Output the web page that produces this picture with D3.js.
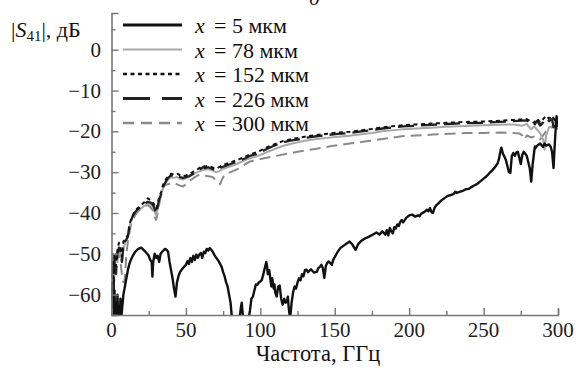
<!DOCTYPE html>
<html>
<head>
<meta charset="utf-8">
<script src="https://cdn.jsdelivr.net/npm/d3@7"></script>
<style>
  body { margin: 0; background: #fff; }
  text { font-family: "Liberation Serif", "Times New Roman", serif; }
</style>
</head>
<body>
<svg id="chart" width="576" height="374"></svg>
<script>
// [frequency GHz, |S41| dB]
const s5 = [[0,-58],[0.5,-65],[1,-60],[1.5,-66],[2,-59],[2.5,-66],[3,-62],[3.5,-67],[4,-60],[4.5,-66],[5,-63],[5.5,-67],[6,-61],[6.5,-66],[7,-64],[7.5,-62],[8,-60],[9,-58],[10,-56],[11,-54],[12,-52.5],[13,-51.5],[14,-50.7],[16,-49.5],[18,-48.8],[20,-48.5],[22,-49.2],[24,-50],[25,-50.5],[26,-51.5],[27,-52],[27.5,-55.6],[28,-52],[29,-50],[30,-51],[31,-50.5],[32,-52],[33,-50],[34,-49.5],[36,-48.8],[37,-49],[38,-49.5],[39,-52],[40,-54],[41,-56],[42,-58.5],[43,-60.5],[44,-57],[45,-55.5],[46,-54.5],[48,-53.5],[50,-52.7],[51,-51.8],[52,-52.5],[53,-51],[54,-52],[55,-50.5],[56,-51.5],[57,-50.2],[58,-51],[59,-50.2],[60,-49.8],[61,-51],[62,-49.5],[63,-49.8],[64,-48.8],[65,-49.2],[66,-48.6],[67,-49],[68,-49.5],[69,-50.2],[70,-50.8],[72,-51.8],[74,-53.2],[75,-54.5],[76,-55.5],[77,-57],[78,-58],[79,-60],[80,-62],[81,-66],[86,-66],[87,-63],[87.5,-62],[88,-64],[88.5,-66],[92,-66],[93,-64],[94,-61],[95,-60.5],[96,-59],[97,-57.5],[98,-57.6],[99,-57],[100,-56.8],[101,-56.4],[102,-55],[103,-53.5],[104,-52],[104.5,-53],[105,-55],[106,-54],[107,-57],[107.5,-58],[108,-56],[109,-58.5],[109.5,-57.5],[110,-59.5],[111,-60.5],[112,-58],[113,-57.8],[114,-61],[115,-62.5],[116,-61],[117,-62],[118,-61.3],[118.5,-60.5],[119,-63],[120,-66],[121,-62],[122,-59.5],[123,-58],[124,-58.5],[125,-57],[126,-56],[127,-56.5],[128,-55],[129,-55.5],[130,-54],[131,-53.9],[132,-54.5],[134,-53.8],[136,-54.6],[138,-54.4],[139,-53.5],[140,-53.2],[141,-52.7],[142,-53.5],[143,-55.9],[144,-53],[145,-52.2],[146,-51.9],[147,-52.3],[148,-52.7],[149,-51.5],[150,-50.8],[152,-49.5],[154,-48.5],[156,-48],[158,-47.5],[160,-47],[162,-47.8],[163,-48.5],[164,-49],[165,-48.2],[166,-47.5],[168,-46.8],[170,-46.3],[172,-46],[174,-45.6],[176,-45.2],[178,-44.8],[180,-45.3],[182,-44.5],[184,-45.3],[185,-44.2],[186,-45.5],[187,-43.7],[188,-44.5],[189,-45],[190,-43.5],[191,-43.8],[192,-42.8],[193,-43.2],[194,-42.2],[195,-41.7],[196,-42.3],[198,-41.2],[200,-40.6],[202,-40.4],[204,-40.9],[206,-40.6],[207,-40.8],[208,-40.2],[210,-39.8],[212,-39.2],[213,-39.6],[214,-38.8],[215,-39.8],[216,-40],[217,-38.8],[218,-38.2],[220,-37.5],[222,-36.8],[224,-36.3],[226,-35.8],[228,-35.6],[230,-35.3],[231,-34.8],[232,-35.1],[234,-34.8],[236,-34.6],[238,-34.2],[240,-34.1],[242,-33.6],[244,-33.2],[246,-32.8],[248,-32.2],[250,-31.6],[252,-31],[254,-30.2],[256,-29.5],[258,-28.6],[259.5,-27.8],[260.5,-26.5],[261.5,-24.5],[262,-24],[263,-25.5],[264,-26.2],[265,-27],[266,-28.5],[267,-30],[268,-30.2],[268.5,-28],[269,-26],[270,-25.3],[271,-26],[272,-25.2],[273,-25],[274,-26.5],[275,-28],[276,-25.8],[277,-25],[278,-25.5],[279,-26],[280,-27.5],[281,-29],[282,-32.3],[283,-28],[284,-25],[284.5,-23.7],[285,-24],[286,-23.5],[288,-23],[290,-23.8],[291,-23],[292,-23.5],[294,-23.2],[295,-23.7],[296,-25],[297,-29],[298,-22],[299,-16.3],[300,-19]];

const s78 = [[0,-53],[1,-50],[2,-55],[3,-51],[4,-52],[5,-49],[6,-50],[7,-52],[8,-49],[9,-47.5],[10,-46.5],[11,-45.5],[12,-43.5],[13,-42],[14,-41],[16,-40],[18,-39.2],[20,-38.8],[22,-38.3],[24,-37.8],[26,-37.8],[28,-38.5],[29,-39.8],[30,-40.5],[31,-39],[32,-37],[33.5,-35.5],[35,-33.5],[37,-32.2],[40,-31.2],[42,-31.4],[44,-31.2],[46,-31.6],[48,-31.8],[50,-31.5],[53,-31],[56,-30.3],[59,-29.8],[62,-29.4],[65,-29.3],[68,-29.6],[70,-30],[72,-29.8],[75,-29.2],[78,-28.8],[82,-28.3],[86,-27.7],[90,-27],[95,-26.4],[100,-25.8],[105,-25],[110,-24.3],[115,-23.6],[120,-23.1],[125,-22.7],[130,-22.3],[138,-21.9],[145,-21.6],[152,-21.3],[160,-21.1],[168,-20.7],[175,-20.4],[182,-20],[190,-19.7],[196,-19.5],[205,-19.3],[215,-19.1],[225,-18.9],[238,-18.7],[250,-18.5],[261,-18.4],[270,-18.3],[276,-18.6],[279,-18.2],[282,-19.5],[284,-18.8],[286,-19.6],[288,-20.5],[290,-22],[291,-24.5],[292,-21],[294,-19],[296,-18.8],[298,-17.5],[300,-18.5]];

const s152 = [[0,-55],[0.5,-60],[1,-52],[1.5,-57],[2,-50],[3,-53],[4,-49],[5,-47.3],[6,-48.5],[7,-50.7],[7.5,-49],[8,-47],[9,-46.5],[10,-46],[11,-45.5],[12,-43],[13,-41.7],[14,-40.8],[15.5,-39.7],[17,-39],[18.8,-38.5],[20,-38],[22,-37.4],[24.3,-36.4],[26,-36.8],[27.7,-37.3],[29,-38.2],[30,-39],[31,-37.6],[32,-36.2],[33.4,-34.8],[34.5,-33.2],[35.6,-32.4],[37,-31.5],[38,-31],[40,-30.4],[42,-30.6],[44.5,-30.4],[46,-30.8],[48,-31],[50,-30.8],[52,-30.5],[54,-30.1],[57,-29.5],[59,-29],[61.4,-28.4],[63,-28.6],[65,-28.4],[67,-28.7],[69,-29],[70.4,-29.1],[72,-28.8],[74,-28.4],[77,-28],[80,-27.6],[83,-27.2],[86,-26.8],[90,-26.2],[93,-25.6],[97,-25.2],[100,-24.7],[105,-23.8],[110,-23.1],[115,-22.4],[120,-22],[125,-21.6],[130,-21.3],[137.7,-20.9],[145,-20.6],[152,-20.3],[160,-20.1],[168,-19.7],[175,-19.4],[182,-19],[190,-18.7],[196,-18.5],[205,-18.3],[215,-18.1],[225,-17.9],[238,-17.7],[250,-17.6],[261,-17.4],[270,-17.2],[279,-17],[282,-17.6],[284,-17.9],[286,-16.9],[288,-17.8],[290,-17],[292,-16.2],[294,-16.9],[296,-16.2],[298,-17.3],[300,-17.8]];

const s226 = [[0,-57],[0.5,-62],[1,-54],[1.5,-59],[2,-51],[3,-55],[4,-50],[5,-48.5],[6,-49.5],[7,-52],[7.5,-50],[8,-48],[9,-47],[10,-46.5],[11,-45.8],[12,-43.5],[13,-42],[14,-41],[15.5,-40],[17,-39.3],[18.8,-38.8],[20,-38.5],[22,-37.9],[24,-37.3],[26,-37.4],[27.7,-37.9],[29,-39],[30,-40.2],[31,-38.5],[32,-36.8],[33.4,-35.3],[34.5,-33.8],[35.6,-32.9],[37,-32],[38,-31.4],[40,-30.8],[42,-31],[44.5,-30.8],[46,-31.2],[48,-31.4],[50,-31.2],[52,-31],[54,-30.6],[57,-30],[59,-29.4],[61.4,-28.8],[63,-29],[65,-28.8],[67,-29.1],[69,-29.4],[70.4,-29.6],[72,-29.2],[74,-28.8],[77,-28.4],[80,-28],[83,-27.6],[86,-27.2],[90,-26.6],[93,-26],[97,-25.6],[100,-25.1],[105,-24.2],[110,-23.4],[115,-22.7],[120,-22.3],[125,-22],[130,-21.6],[137.7,-21.2],[145,-20.9],[152,-20.6],[160,-20.4],[168,-20],[175,-19.7],[182,-19.3],[190,-19],[196,-18.8],[205,-18.6],[215,-18.4],[225,-18.2],[238,-18],[250,-17.9],[261,-17.7],[270,-17.5],[279,-17.3],[282,-18.2],[284,-18.5],[286,-17.4],[288,-18.6],[290,-17.8],[292,-16.8],[294,-17.5],[296,-17],[297,-19],[298,-17.8],[300,-18.2]];

const s300 = [[0,-52],[1,-56],[2,-52],[3,-50],[4,-51],[5,-49],[6,-52],[7,-55],[8,-57],[8.7,-57],[9.5,-53],[10,-50],[11,-47],[12,-45],[13,-43],[14,-42],[16,-40.5],[18,-39.5],[20,-39],[22,-38.5],[24,-38],[26,-38.5],[28,-39.5],[29,-41],[30,-41.7],[31,-40],[32,-38],[33,-36],[34,-34.5],[35,-33.5],[37,-33],[40,-32.8],[42,-32.6],[44,-33],[46,-33.3],[48,-33.5],[50,-33],[53,-32],[56,-31.2],[59,-30.6],[62,-30.8],[65,-31],[68,-31.2],[70,-32],[72,-32.3],[73,-33],[74,-32],[76,-30.5],[80,-30],[85,-29.2],[90,-28],[93,-27.4],[100,-26.8],[108,-26.2],[115,-25.7],[125,-25],[137,-24.3],[148,-23.6],[160,-23],[170,-22.5],[182,-21.9],[195,-21.2],[205,-21],[216,-20.8],[228,-20.6],[238,-20.4],[250,-20.4],[261,-20.3],[270,-20.4],[274,-20.5],[276,-21],[277.7,-22],[279,-21],[282,-21.5],[284.5,-21.2],[286,-21.8],[288,-22],[290,-21],[292,-20],[294,-19.5],[296,-19],[298,-18.8],[300,-19.5]];

const seriesNames = ["5", "78", "152", "226", "300"];
const xTicks = [0, 50, 100, 150, 200, 250, 300];
const yTicks = [0, -10, -20, -30, -40, -50, -60];

const svg = d3.select("#chart");
const serif = "Liberation Serif";

const x = d3.scaleLinear().domain([0, 300]).range([111.5, 558]);
const y = d3.scaleLinear().domain([-65, 9]).range([315, 13]);

const styles = [
  { data: s5,   stroke: "#111", width: 2.4, dash: null, legW: 3 },
  { data: s78,  stroke: "#a8a8a8", width: 2, dash: null, legW: 2 },
  { data: s152, stroke: "#111", width: 2, dash: "4,3.5", legW: 2.6 },
  { data: s226, stroke: "#222", width: 2.3, dash: "16,7", legW: 3, legDash: "27,12" },
  { data: s300, stroke: "#8a8a8a", width: 2, dash: "11,6", legW: 2.4, legDash: "11,7" }
];

svg.append("clipPath").attr("id", "plot")
  .append("rect")
  .attr("x", x(0)).attr("y", y(9))
  .attr("width", x(300) - x(0)).attr("height", y(-65) - y(9));

const line = d3.line().x(d => x(d[0])).y(d => y(d[1]));

// draw order: upper group first, lower black curve on top
const plot = svg.append("g").attr("clip-path", "url(#plot)");
[4, 1, 3, 2, 0].forEach(i => {
  const s = styles[i];
  plot.append("path")
    .datum(s.data)
    .attr("d", line)
    .attr("fill", "none")
    .attr("stroke", s.stroke)
    .attr("stroke-width", s.width)
    .attr("stroke-dasharray", s.dash)
    .attr("stroke-linejoin", "round");
});

// axes: ticks point inward
const axisColor = "#777";
const xAxis = svg.append("g")
  .attr("transform", "translate(0," + y(-65) + ")")
  .call(d3.axisBottom(x).tickValues(d3.range(0, 301, 25)).tickSize(-6).tickFormat(""));
xAxis.selectAll(".tick line")
  .attr("y2", d => d % 50 === 0 ? -7 : -4);
const yAxis = svg.append("g")
  .attr("transform", "translate(" + x(0) + ",0)")
  .call(d3.axisLeft(y).tickValues(d3.range(-65, 10, 5)).tickSize(-7).tickFormat(""));
yAxis.selectAll(".tick line")
  .attr("x2", d => d % 10 === 0 ? 7 : 4);
[xAxis, yAxis].forEach(a => {
  a.select(".domain").attr("stroke", axisColor).attr("stroke-width", 1.6);
  a.selectAll(".tick line").attr("stroke", axisColor).attr("stroke-width", 1.4);
});

svg.append("g").selectAll("text")
  .data(xTicks).join("text")
  .attr("x", d => x(d)).attr("y", 337)
  .attr("text-anchor", "middle")
  .attr("font-family", serif)
  .attr("font-size", 21)
  .attr("fill", "#222")
  .text(d => d);

svg.append("g").selectAll("text")
  .data(yTicks).join("text")
  .attr("x", 101).attr("y", d => y(d) + 7)
  .attr("text-anchor", "end")
  .attr("font-family", serif)
  .attr("font-size", 21)
  .attr("fill", "#222")
  .text(d => d < 0 ? "\u2212" + (-d) : d);

// axis titles
svg.append("text")
  .attr("x", 318).attr("y", 361)
  .attr("text-anchor", "middle")
  .attr("font-family", serif)
  .attr("font-size", 22.5).attr("fill", "#111")
  .text("Частота, ГГц");

const yl = svg.append("text").attr("x", 11).attr("y", 37)
  .attr("font-family", serif).attr("font-size", 22).attr("fill", "#111");
yl.append("tspan").text("|");
yl.append("tspan").attr("font-style", "italic").text("S");
yl.append("tspan").attr("font-size", 15).attr("dy", 4).text("41");
yl.append("tspan").attr("dy", -4).text("|, дБ");

// panel letter, mostly cut off at the top as in the source
svg.append("text").attr("x", 309).attr("y", 5).attr("font-size", 21)
  .attr("font-family", serif)
  .attr("font-style", "italic").attr("fill", "#111").text("б");

// legend
const leg = svg.append("g");
styles.forEach((s, i) => {
  const by = 33 + i * 24.5;
  leg.append("line")
    .attr("x1", 123).attr("x2", 182)
    .attr("y1", by - 8).attr("y2", by - 8)
    .attr("stroke", s.stroke)
    .attr("stroke-width", s.legW)
    .attr("stroke-dasharray", s.legDash || s.dash);
  const t = leg.append("text").attr("y", by)
    .attr("font-family", serif).attr("font-size", 22).attr("fill", "#111");
  t.append("tspan").attr("x", 195).attr("font-style", "italic").text("x");
  t.append("tspan").attr("x", 214).text("= " + seriesNames[i] + " мкм");
});
</script>
</body>
</html>
